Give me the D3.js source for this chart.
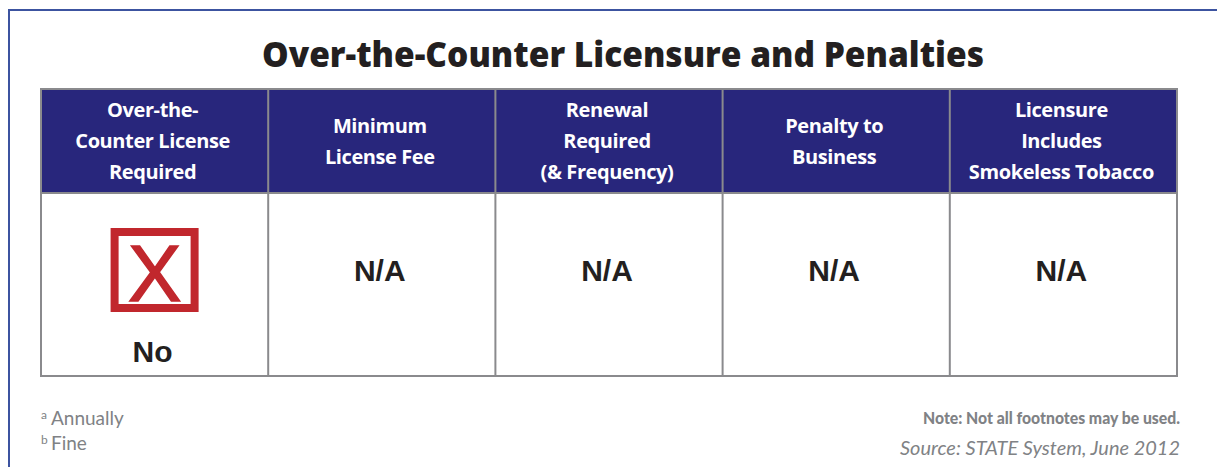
<!DOCTYPE html>
<html><head><meta charset="utf-8">
<script src="https://cdn.jsdelivr.net/npm/d3@7"></script>
<style>html,body{margin:0;padding:0;background:#fff;}svg{display:block;}</style>
</head><body>
<script>
const title = "Over-the-Counter Licensure and Penalties";
const columns = ["otc", "fee", "renewal", "penalty", "smokeless"];
const headerLines = [
  ["Over-the-", "Counter License", "Required"],
  ["Minimum", "License Fee"],
  ["Renewal", "Required", "(& Frequency)"],
  ["Penalty to", "Business"],
  ["Licensure", "Includes", "Smokeless Tobacco"]
];
const values = ["No", "N/A", "N/A", "N/A", "N/A"];
const hasIcon = [true, false, false, false, false];
const footnoteMarks = ["a", "b"];
const footnoteTexts = ["Annually", "Fine"];
const note = "Note: Not all footnotes may be used.";
const source = "Source: STATE System, June 2012";

const W = 1217, H = 467;
const svg = d3.select("body").append("svg").attr("width", W).attr("height", H);

// outer frame
svg.append("path").attr("d", `M9,${H} V10 H${W}`).attr("fill", "none")
  .attr("stroke", "#3c53a0").attr("stroke-width", 2);

svg.append("text").attr("x", 623).attr("y", 67).attr("text-anchor", "middle")
  .attr("font-family", "'Open Sans', sans-serif").attr("font-weight", 800)
  .attr("font-size", 35).attr("fill", "#231f20")
  .attr("textLength", 722).attr("lengthAdjust", "spacingAndGlyphs").text(title);

const x = d3.scaleBand().domain(columns).range([41, 1177]).padding(0);
const y = d3.scaleOrdinal().domain(["head", "body"]).range([89, 193]);
const headH = 104, bodyH = 183;

// header background
svg.append("rect").attr("x", x.range()[0]).attr("y", y("head"))
  .attr("width", x.range()[1] - x.range()[0]).attr("height", headH).attr("fill", "#28267c");

const cols = svg.selectAll("g.col").data(columns.map((c, i) => ({c, i}))).join("g").attr("class", "col");

cols.each(function(d) {
  const g = d3.select(this);
  const lines = headerLines[d.i];
  const cx = x(d.c) + x.bandwidth() / 2;
  const lh = 31;
  const mid = y("head") + headH / 2;
  const start = mid - (lines.length - 1) * lh / 2 + 7;
  lines.forEach((t, k) => {
    g.append("text").attr("x", cx - 2).attr("y", start + k * lh).attr("text-anchor", "middle")
      .attr("font-family", "'Open Sans', sans-serif").attr("font-weight", 700)
      .attr("font-size", 20).attr("fill", "#fff").attr("letter-spacing", -0.4).text(t);
  });
  if (hasIcon[d.i]) {
    const bx = cx - 44;
    g.append("rect").attr("x", bx + 4).attr("y", 232).attr("width", 80).attr("height", 76)
      .attr("fill", "#fff").attr("stroke", "#c1272d").attr("stroke-width", 8);
    g.append("text").attr("x", cx).attr("y", 301).attr("text-anchor", "middle")
      .attr("font-family", "'Liberation Sans', Arial, sans-serif").attr("font-size", 80)
      .attr("fill", "#c1272d").attr("stroke", "#c1272d").attr("stroke-width", 1.5).text("X");
    g.append("text").attr("x", cx - 2).attr("y", 362).attr("text-anchor", "middle")
      .attr("font-family", "'Liberation Sans', Arial, sans-serif").attr("font-weight", 700)
      .attr("font-size", 30).attr("fill", "#231f20").text(values[d.i]);
  } else {
    g.append("text").attr("x", cx - 2).attr("y", 281).attr("text-anchor", "middle")
      .attr("font-family", "'Liberation Sans', Arial, sans-serif").attr("font-weight", 700)
      .attr("font-size", 30).attr("fill", "#231f20").text(values[d.i]);
  }
});

// grid lines
const gridColor = "#8a8a8d";
columns.slice(1).forEach(c => {
  svg.append("line").attr("x1", x(c)).attr("x2", x(c)).attr("y1", y("head")).attr("y2", y("body") + bodyH)
    .attr("stroke", gridColor).attr("stroke-width", 2);
});
svg.append("line").attr("x1", x.range()[0]).attr("x2", x.range()[1]).attr("y1", y("body")).attr("y2", y("body"))
  .attr("stroke", gridColor).attr("stroke-width", 2);
svg.append("rect").attr("x", x.range()[0]).attr("y", y("head"))
  .attr("width", x.range()[1] - x.range()[0]).attr("height", headH + bodyH)
  .attr("fill", "none").attr("stroke", gridColor).attr("stroke-width", 2);

// footnotes
footnoteTexts.forEach((t, i) => {
  const ty = 425 + i * 25;
  svg.append("text").attr("x", 41).attr("y", ty - 6).attr("font-family", "Lato, sans-serif")
    .attr("font-size", 12).attr("fill", "#808285").text(footnoteMarks[i]);
  svg.append("text").attr("x", 51).attr("y", ty).attr("font-family", "Lato, sans-serif")
    .attr("font-size", 19).attr("fill", "#808285").text(t);
});
svg.append("text").attr("x", 1180).attr("y", 424).attr("text-anchor", "end")
  .attr("font-family", "Lato, sans-serif").attr("font-weight", 900).attr("font-size", 17.5)
  .attr("fill", "#808285").attr("textLength", 257).attr("lengthAdjust", "spacingAndGlyphs").text(note);
svg.append("text").attr("x", 1180).attr("y", 455).attr("text-anchor", "end")
  .attr("font-family", "Lato, sans-serif").attr("font-style", "italic").attr("font-size", 19)
  .attr("fill", "#808285").attr("textLength", 280).attr("lengthAdjust", "spacingAndGlyphs").text(source);
</script>
</body></html>
